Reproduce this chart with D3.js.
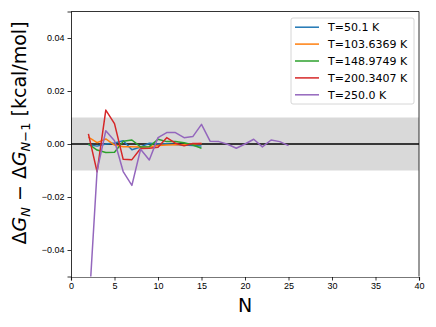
<!DOCTYPE html>
<html lang="en">
<head>
    <meta charset="UTF-8">
    <title>Convergence of dG</title>
    <script src="https://d3js.org/d3.v7.min.js"></script>
    <style>
        body { margin: 0; background: white; }
        svg { font-family: "DejaVu Sans", sans-serif; }
        .tick text { font-size: 9px; fill: #000; }
        .tick line, .domain { stroke: #000; stroke-width: 0.8; }
        .series { fill: none; stroke-width: 1.5; stroke-linejoin: round; }
    </style>
</head>
<body>

<div id="chart"></div>

<script>
    // temperatures (legend labels) and colours
    const temps = ["T=50.1 K", "T=103.6369 K", "T=148.9749 K", "T=200.3407 K", "T=250.0 K"];
    const colors = ["#1f77b4", "#ff7f0e", "#2ca02c", "#d62728", "#9467bd"];

    // N values for each series
    const nShort = [2, 3, 4, 5, 6, 7, 8, 9, 10, 11, 12, 13, 14, 15];
    const nLong = [2, 3, 4, 5, 6, 7, 8, 9, 10, 11, 12, 13, 14, 15, 16, 17, 18, 19, 20, 21, 22, 23, 24, 25];

    // dG_N - dG_{N-1}, kcal/mol
    const t50 = [-0.0003, -0.0008, 0.0000, 0.0004, 0.0012, -0.0022, -0.0011, 0.0003, 0.0000, 0.0001, -0.0002, -0.0004, -0.0006, -0.0008];
    const t103 = [0.0026, 0.0005, 0.0019, -0.0004, -0.0010, -0.0010, -0.0011, -0.0010, -0.0006, -0.0004, -0.0003, -0.0002, 0.0000, 0.0002];
    const t149 = [0.0000, -0.0023, -0.0032, -0.0031, 0.0010, 0.0015, -0.0011, -0.0010, 0.0018, 0.0009, 0.0009, 0.0005, -0.0004, -0.0016];
    const t200 = [0.0038, -0.0105, 0.0128, 0.0077, -0.0058, -0.0059, -0.0017, -0.0016, -0.0012, 0.0024, 0.0003, -0.0007, 0.0002, 0.0002];
    const t250 = [-0.065, -0.0100, 0.0050, 0.0012, -0.0104, -0.0156, -0.0020, -0.0060, 0.0024, 0.0043, 0.0043, 0.0024, 0.0028, 0.0074,
                  0.0010, 0.0009, -0.0001, -0.0016, 0.0000, 0.0018, -0.0011, 0.0015, 0.0009, -0.0006];

    const xTicks = [0, 5, 10, 15, 20, 25, 30, 35, 40];
    const yTicks = [-0.04, -0.02, 0.00, 0.02, 0.04];

    const seriesData = [
        { name: temps[0], n: nShort, v: t50 },
        { name: temps[1], n: nShort, v: t103 },
        { name: temps[2], n: nShort, v: t149 },
        { name: temps[3], n: nShort, v: t200 },
        { name: temps[4], n: nLong, v: t250 }
    ];

    const W = 436, H = 327;
    const margin = { top: 11.5, right: 17, bottom: 50.5, left: 71 };
    const width = W - margin.left - margin.right;
    const height = H - margin.top - margin.bottom;

    const svg = d3.select("#chart").append("svg")
        .attr("width", W)
        .attr("height", H);

    svg.append("defs").append("clipPath")
        .attr("id", "clip")
        .append("rect")
        .attr("width", width)
        .attr("height", height);

    const g = svg.append("g")
        .attr("transform", "translate(" + margin.left + "," + margin.top + ")");

    const x = d3.scaleLinear().domain([0, 40]).range([0, width]);
    const y = d3.scaleLinear().domain([-0.05, 0.05]).range([height, 0]);

    // shaded +/- 0.01 band
    g.append("rect")
        .attr("x", 0)
        .attr("width", width)
        .attr("y", y(0.01))
        .attr("height", y(-0.01) - y(0.01))
        .attr("fill", "#d9d9d9");

    // zero line
    g.append("line")
        .attr("x1", 0).attr("x2", width)
        .attr("y1", y(0)).attr("y2", y(0))
        .attr("stroke", "#000")
        .attr("stroke-width", 1.5);

    const line = d3.line()
        .x(d => x(d[0]))
        .y(d => y(d[1]));

    g.append("g")
        .attr("clip-path", "url(#clip)")
        .selectAll(".series")
        .data(seriesData)
        .enter().append("path")
        .attr("class", "series")
        .attr("stroke", (d, i) => colors[i])
        .attr("d", d => line(d.n.map((n, i) => [n, d.v[i]])));

    // axes
    const xAxis = g.append("g")
        .attr("transform", "translate(0," + (height + 0.5) + ")")
        .call(d3.axisBottom(x).tickValues(xTicks).tickSize(3.5).tickPadding(2).tickFormat(d3.format("d")));
    xAxis.select(".domain").style("stroke", "#777").style("stroke-width", 1.2);

    g.append("g")
        .call(d3.axisLeft(y).tickValues(yTicks).tickSize(3.5).tickPadding(3)
            .tickFormat(d => d3.format(".2f")(d).replace("-", "\u2212")));

    // top / right frame
    g.append("path")
        .attr("d", "M0,0H" + width + "V" + height)
        .attr("fill", "none")
        .attr("stroke", "#000")
        .attr("stroke-width", 0.8);

    // axis labels
    svg.append("text")
        .attr("x", margin.left + width / 2)
        .attr("y", 312)
        .attr("text-anchor", "middle")
        .style("font-size", "19px")
        .text("N");

    const yl = svg.append("text")
        .attr("transform", "translate(26," + (margin.top + height / 2 - 11) + ") rotate(-90)")
        .attr("text-anchor", "middle")
        .style("font-size", "19px");
    yl.append("tspan").text("\u0394");
    yl.append("tspan").style("font-style", "italic").text("G");
    yl.append("tspan").style("font-style", "italic").style("font-size", "13px").attr("dy", 4).text("N");
    yl.append("tspan").attr("dy", -4).text(" \u2212 \u0394");
    yl.append("tspan").style("font-style", "italic").text("G");
    yl.append("tspan").style("font-size", "13px").attr("dy", 4)
        .html("<tspan font-style='italic'>N</tspan>\u22121");
    yl.append("tspan").attr("dy", -4).text(" [kcal/mol]");

    // legend
    const lg = svg.append("g").attr("transform", "translate(291,18)");
    lg.append("rect")
        .attr("width", 123)
        .attr("height", 86)
        .attr("rx", 2)
        .attr("fill", "white")
        .attr("fill-opacity", 0.8)
        .attr("stroke", "#ccc")
        .attr("stroke-width", 0.8);

    const item = lg.selectAll(".item")
        .data(temps)
        .enter().append("g")
        .attr("transform", (d, i) => "translate(0," + (9.2 + i * 16.9) + ")");
    item.append("line")
        .attr("x1", 4).attr("x2", 28)
        .attr("stroke", (d, i) => colors[i])
        .attr("stroke-width", 1.5);
    item.append("text")
        .attr("x", 37)
        .attr("dy", "0.35em")
        .style("font-size", "11px")
        .text(d => d);
</script>

</body>
</html>
